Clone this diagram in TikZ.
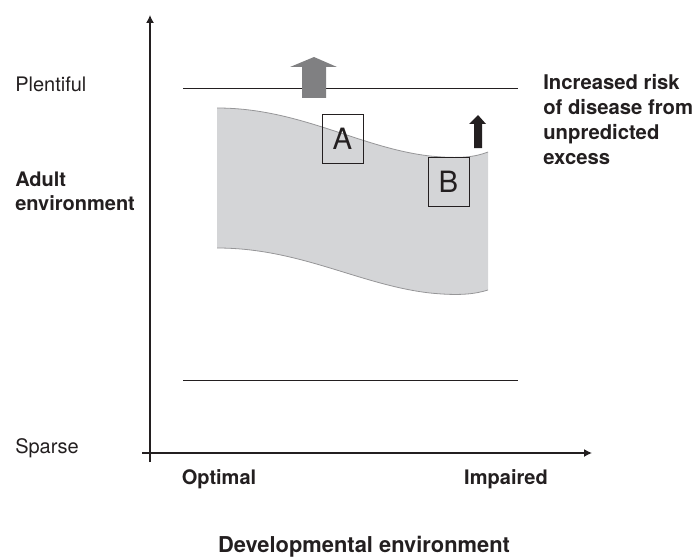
\documentclass[tikz,border=0pt]{standalone}
\usepackage{fontspec}
\setmainfont{TeX Gyre Heros}
\usetikzlibrary{arrows.meta}
\definecolor{bandgray}{RGB}{212,213,215}
\definecolor{bandedge}{RGB}{150,150,152}
\definecolor{arrowgray}{RGB}{128,128,130}
\definecolor{inkgray}{RGB}{35,31,32}

\begin{document}
\begin{tikzpicture}[x=0.75pt,y=-0.75pt,
    every node/.style={font=\fontsize{15}{18}\selectfont, text=inkgray, inner sep=0pt},
    axis/.style={draw=inkgray, line width=1pt, -{Latex[length=6pt,width=6pt]}},
    level/.style={draw=inkgray, line width=0.75pt},
    heading/.style={font=\fontsize{15}{18}\selectfont\bfseries, align=left},
    tag/.style={draw=inkgray, line width=0.6pt, minimum width=30.75pt,
                minimum height=36.75pt, font=\fontsize{22}{24}\selectfont}]
  \useasboundingbox (0,0) rectangle (698,556);

  % band of adult environments
  \fill[bandgray] (217,108) .. controls (300,108) and (360,148) .. (430,156)
      .. controls (460,159) and (475,157) .. (488,152)
      -- (488,290) .. controls (475,294) and (460,296) .. (430,293)
      .. controls (360,285) and (300,248) .. (217,248) -- cycle;
  \draw[bandedge, line width=0.6pt] (217,108) .. controls (300,108) and (360,148) .. (430,156)
      .. controls (460,159) and (475,157) .. (488,152);
  \draw[bandedge, line width=0.6pt] (217,248) .. controls (300,248) and (360,285) .. (430,293)
      .. controls (460,296) and (475,294) .. (488,290);

  % levels
  \coordinate (plenty left)  at (183,89);
  \coordinate (plenty right) at (518,89);
  \coordinate (sparse left)  at (183,380);
  \coordinate (sparse right) at (518,380);
  \draw[level] (plenty left) -- (plenty right);
  \draw[level] (sparse left) -- (sparse right);

  % block arrows
  \fill[arrowgray] (302,98) -- (302,67) -- (290,67) -- (314,57) -- (337,67)
      -- (326,67) -- (326,98) -- cycle;
  \fill[inkgray] (474,148) -- (474,124) -- (469,124) -- (478,115) -- (486,124)
      -- (482,124) -- (482,148) -- cycle;

  % boxes
  \node[tag] (box a) at (342.5,138.5) {A};
  \node[tag] (box b) at (448.5,181.5) {B};

  % axes
  \coordinate (y foot) at (150,462);
  \coordinate (y tip)  at (150,15);
  \coordinate (x foot) at (142,453);
  \coordinate (x tip)  at (592,453);
  \draw[axis] (y foot) -- (y tip);
  \draw[axis] (x foot) -- (x tip);

  % labels
  \node[anchor=west] (plentiful) at (15,84) {Plentiful};
  \node[heading, anchor=west] (adult env) at (15,191) {Adult\\environment};
  \node[anchor=west] (sparse) at (15,448) {Sparse};
  \node[heading] (optimal)  at (219,479) {Optimal};
  \node[heading] (impaired) at (506,479) {Impaired};
  \node[heading, font=\fontsize{16.4}{18}\selectfont\bfseries] (dev env) at (364,547)
      {Developmental environment};
  \node[heading, font=\fontsize{15.2}{18.75}\selectfont\bfseries, anchor=west] (risk) at (543,120)
      {Increased risk\\of disease from\\unpredicted\\excess};
\end{tikzpicture}
\end{document}
